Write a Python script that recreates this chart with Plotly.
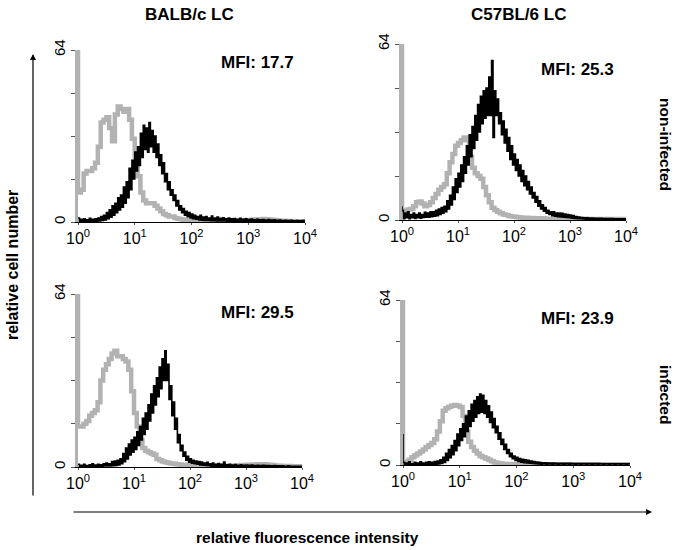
import plotly.graph_objects as go

# ---------------- data ----------------
COL_TITLES = ["BALB/c LC", "C57BL/6 LC"]
ROW_TITLES = ["non-infected", "infected"]
MFI_TEXT = ["MFI: 17.7", "MFI: 25.3", "MFI: 29.5", "MFI: 23.9"]
Y_LABEL = "relative cell number"
X_LABEL = "relative fluorescence intensity"
X_TICKVALS = [1, 10, 100, 1000, 10000]
X_TICKTEXT = ["10<sup>0</sup>", "10<sup>1</sup>", "10<sup>2</sup>", "10<sup>3</sup>", "10<sup>4</sup>"]
Y_TICKVALS = [0, 64]
Y_TICKTEXT = ["0", "64"]
Y_MINOR_TICKS = [16, 32, 48]

# histogram channels: log10 fluorescence positions, 0.05 decade steps
LOG_BINS = [i * 0.05 for i in range(81)]

# counts in first channel (pile-up at the axis)
GRAY_FIRST = [64, 64, 64, 64]
BLACK_FIRST = [1.5, 5, 1, 12]

# isotype control (gray)
TL_GRAY = [11, 12, 18, 19, 19, 20, 22, 28, 37, 38,
           39, 35, 30, 40, 43, 42, 41, 42, 38, 31,
           24, 17, 11, 8, 7, 7, 7, 6, 5, 4,
           3, 2.5, 2, 2, 1.5, 1.2, 1, 0.8, 0.6, 0.6,
           0.5, 0.5, 0.4, 0.5, 0.4, 0.4, 0.5, 0.4, 0.4, 0.5,
           0.4, 0.4, 0.4, 0.5, 0.4, 0.5, 0.5, 0.6, 0.6, 0.7,
           0.7, 0.8, 0.9, 1.0, 1.0, 1.1, 1.0, 0.9, 0.8, 0.7,
           0.6, 0.5, 0.5, 0.4, 0.4, 0.4, 0.3, 0.3, 0.3, 0.3,
           0.3]
TR_GRAY = [3.5, 3.5, 3.8, 4, 5, 6.5, 6.7, 6, 5, 5.5,
           6.5, 8, 9.5, 11, 12, 13, 17, 21, 24, 27,
           28, 29, 30, 29, 23, 19, 17, 16, 15, 12,
           9, 6.5, 4.5, 3.6, 3, 2.5, 2, 1.8, 1.5, 1.3,
           1.2, 1.0, 0.9, 0.8, 0.8, 0.7, 0.7, 0.6, 0.6, 0.6,
           0.6, 0.5, 0.5, 0.5, 0.5, 0.5, 0.5, 0.5, 0.5, 0.5,
           0.5, 0.5, 0.5, 0.5, 0.5, 0.5, 0.4, 0.4, 0.4, 0.4,
           0.4, 0.4, 0.4, 0.4, 0.4, 0.4, 0.4, 0.4, 0.4, 0.4,
           0.4]
BL_GRAY = [15, 15, 16, 17, 19, 20, 21, 24, 32, 36,
           38, 40, 42, 43, 41, 41, 40, 39, 36, 28,
           20, 15, 10, 7, 6, 5.5, 5, 4.5, 3, 2.5,
           2, 1.8, 1.5, 1.3, 1.2, 1.0, 0.9, 0.8, 0.7, 0.6,
           0.5, 0.5, 0.5, 0.5, 0.5, 0.5, 0.5, 0.5, 0.5, 0.5,
           0.5, 0.5, 0.5, 0.5, 0.5, 0.5, 0.6, 0.6, 0.7, 0.7,
           0.8, 0.8, 0.9, 0.9, 1.0, 1.0, 1.0, 0.9, 0.8, 0.7,
           0.6, 0.5, 0.5, 0.4, 0.4, 0.4, 0.3, 0.3, 0.3, 0.3,
           0.3]
BR_GRAY = [1.0, 1.3, 2.0, 3.0, 3.8, 4.5, 5.2, 6, 7, 7.8,
           8.5, 10, 13, 17, 21, 22, 22.6, 23, 23.3, 23,
           22.5, 19, 13, 9, 7, 5.5, 4.5, 3.5, 3, 2.5,
           2, 1.5, 1.0, 0.8, 0.6, 0.5, 0.4, 0.4, 0.4, 0.3,
           0.3, 0.3, 0.3, 0.3, 0.3, 0.3, 0.3, 0.3, 0.3, 0.3,
           0.3, 0.3, 0.3, 0.3, 0.3, 0.3, 0.3, 0.3, 0.3, 0.3,
           0.3, 0.3, 0.3, 0.3, 0.3, 0.3, 0.3, 0.3, 0.3, 0.3,
           0.3, 0.3, 0.3, 0.3, 0.3, 0.3, 0.3, 0.3, 0.3, 0.3,
           0.3]

# specific staining (black): upper and lower envelope of the noisy histogram
TL_HI = [1.5, 1.0, 1.2, 0.8, 1.4, 1.0, 1.2, 1.5, 2.0, 2.5,
         3.5, 4.5, 6, 7, 9, 10, 13, 15, 20, 23,
         26, 28, 33, 36, 35, 37, 34, 32, 29, 25,
         22, 18, 15, 12, 10, 8, 6, 5, 4, 3.5,
         3, 2.5, 2.0, 2.5, 1.8, 2.0, 1.5, 2.2, 1.5, 1.8,
         1.4, 1.6, 1.2, 1.5, 1.2, 1.3, 1.0, 1.4, 1.0, 1.2,
         0.9, 1.1, 0.8, 1.0, 0.8, 0.9, 0.7, 0.9, 0.7, 0.8,
         0.6, 0.7, 0.5, 0.6, 0.5, 0.6, 0.4, 0.5, 0.4, 0.5,
         0.4]
TL_LO = [0.3, 0.2, 0.3, 0.2, 0.3, 0.2, 0.3, 0.4, 0.6, 0.8,
         1.2, 1.8, 2.5, 3.5, 4.5, 5.5, 7, 9, 12, 16,
         19, 21, 24, 27, 26, 28, 26, 24, 21, 18,
         15, 12, 10, 8, 6, 4.5, 3.5, 2.5, 2, 1.5,
         1.2, 1.0, 0.8, 0.7, 0.6, 0.6, 0.5, 0.5, 0.4, 0.4,
         0.4, 0.4, 0.3, 0.3, 0.3, 0.2, 0.3, 0.2, 0.3, 0.2,
         0.3, 0.2, 0.3, 0.2, 0.3, 0.2, 0.3, 0.2, 0.3, 0.2,
         0.3, 0.2, 0.3, 0.2, 0.3, 0.2, 0.3, 0.2, 0.3, 0.2,
         0.2]
TR_HI = [3.5, 2.5, 3, 2, 2.5, 2, 2.5, 2, 2.8, 2.5,
         3, 3, 3.5, 4, 4.5, 5, 7, 9, 12, 15,
         17, 20, 23, 27, 31, 34, 38, 42, 45, 47,
         48, 52, 58, 47, 44, 39, 36, 33, 30, 27,
         24, 22, 20, 18, 16, 14, 12, 10, 8.5, 7,
         5.5, 4.5, 3.5, 3, 3, 2.5, 2.5, 2.4, 2.2, 2,
         1.8, 1.6, 1.3, 1.1, 0.9, 0.8, 0.8, 0.7, 0.7, 0.6,
         0.6, 0.6, 0.5, 0.5, 0.5, 0.5, 0.4, 0.4, 0.4, 0.4,
         0.4]
TR_LO = [0.5, 0.8, 0.5, 0.8, 0.6, 0.8, 0.7, 0.9, 1.0, 1.0,
         1.2, 1.4, 1.6, 2, 2.5, 3, 4, 5.5, 7.5, 10,
         12, 14, 17, 20, 23, 26, 29, 32, 35, 37,
         38, 38, 30, 38, 35, 31, 28, 25, 22, 20,
         18, 16, 14, 12.5, 11, 9.5, 8, 6.5, 5, 4,
         3.2, 2.5, 2, 1.6, 1.4, 1.2, 1.1, 1, 0.9, 0.8,
         0.7, 0.6, 0.5, 0.5, 0.4, 0.3, 0.2, 0.3, 0.2, 0.3,
         0.2, 0.3, 0.2, 0.3, 0.2, 0.3, 0.2, 0.3, 0.2, 0.3,
         0.2]
BL_HI = [1.0, 0.6, 1.0, 0.5, 0.8, 1.2, 0.7, 1.0, 0.8, 1.2,
         1.5, 1.2, 2, 2.2, 2.5, 3, 5, 7, 8.5, 10,
         11, 13, 15, 18, 20, 23, 27, 30, 33, 37,
         40, 43, 38, 30, 24, 18, 12, 8, 5.5, 4,
         3, 2.5, 2.2, 2.0, 1.8, 1.5, 1.7, 1.2, 1.5, 1.0,
         1.3, 1.0, 1.8, 0.8, 1.0, 0.7, 0.9, 0.6, 0.8, 0.6,
         0.7, 0.6, 0.7, 0.5, 0.6, 0.5, 0.6, 0.5, 0.5, 0.4,
         0.5, 0.4, 0.4, 0.4, 0.3, 0.4, 0.3, 0.3, 0.3, 0.3,
         0.3]
BL_LO = [0.2, 0.3, 0.2, 0.3, 0.2, 0.3, 0.2, 0.3, 0.3, 0.4,
         0.4, 0.4, 0.5, 0.6, 0.8, 1.2, 2, 3, 4.5, 5.5,
         6.5, 8, 10, 12, 14, 17, 20, 23, 26, 29,
         32, 32, 25, 19, 14, 9, 6, 4, 2.5, 1.8,
         1.4, 1.2, 1, 0.8, 0.7, 0.6, 0.5, 0.3, 0.2, 0.3,
         0.2, 0.3, 0.2, 0.3, 0.2, 0.3, 0.2, 0.3, 0.2, 0.3,
         0.2, 0.3, 0.2, 0.3, 0.2, 0.3, 0.2, 0.3, 0.2, 0.3,
         0.2, 0.3, 0.2, 0.3, 0.2, 0.3, 0.2, 0.3, 0.2, 0.3,
         0.2]
BR_HI = [1.0, 0.8, 1.2, 0.6, 1.0, 0.8, 1.2, 0.8, 1.0, 1.2,
         1.0, 1.3, 1.5, 2, 3, 4.5, 6, 7.5, 9.5, 12,
         14, 16, 19, 21, 23.5, 25, 26.5, 27.5, 27, 25,
         23, 20.5, 18, 15, 12.5, 10, 8, 6, 4.5, 3.5,
         3, 2.5, 2.2, 2, 1.8, 1.5, 1.3, 1.1, 1.0, 0.9,
         0.9, 0.8, 0.8, 0.8, 0.7, 0.7, 0.7, 0.7, 0.7, 0.7,
         0.6, 0.6, 0.6, 0.6, 0.6, 0.6, 0.6, 0.6, 0.6, 0.6,
         0.5, 0.5, 0.5, 0.5, 0.5, 0.5, 0.5, 0.5, 0.5, 0.5,
         0.5]
BR_LO = [0.2, 0.3, 0.2, 0.3, 0.2, 0.3, 0.2, 0.3, 0.2, 0.3,
         0.3, 0.3, 0.4, 0.6, 1.0, 1.8, 2.8, 4, 5.5, 7.5,
         9.5, 11, 13, 15, 17, 18.5, 20, 20.5, 20, 18.5,
         16.5, 14.5, 12.5, 10, 8, 6, 4.5, 3.2, 2.4, 1.8,
         1.4, 1.1, 0.9, 0.8, 0.7, 0.6, 0.5, 0.4, 0.3, 0.4,
         0.3, 0.4, 0.3, 0.4, 0.3, 0.4, 0.3, 0.4, 0.3, 0.4,
         0.3, 0.4, 0.3, 0.4, 0.3, 0.4, 0.3, 0.4, 0.3, 0.4,
         0.3, 0.4, 0.3, 0.4, 0.3, 0.4, 0.3, 0.4, 0.3, 0.4,
         0.3]

GRAY = [TL_GRAY, TR_GRAY, BL_GRAY, BR_GRAY]
HI = [TL_HI, TR_HI, BL_HI, BR_HI]
LO = [TL_LO, TR_LO, BL_LO, BR_LO]

# ---------------- layout geometry ----------------
W, H = 683, 550
FONT = "Liberation Sans, Arial, sans-serif"
# panel boxes in pixels: (left, right, top, bottom)
BOXES = [(78, 305, 50, 222), (402, 626, 44, 220),
         (78, 302, 294, 467), (403, 630, 300, 465)]

fig = go.Figure()

step = LOG_BINS[1] - LOG_BINS[0]
for k in range(4):
    xa = "x" if k == 0 else f"x{k+1}"
    ya = "y" if k == 0 else f"y{k+1}"
    gx = [10 ** LOG_BINS[0]] + [10 ** p for p in LOG_BINS]
    gy = [GRAY_FIRST[k]] + GRAY[k]
    fig.add_trace(go.Scatter(x=gx, y=gy, mode="lines", line_shape="hv",
                             line=dict(color="#b2b2b2", width=4.5),
                             xaxis=xa, yaxis=ya, showlegend=False, hoverinfo="skip"))
    bx, by = [10 ** LOG_BINS[0]], [BLACK_FIRST[k]]
    for p, hi, lo in zip(LOG_BINS, HI[k], LO[k]):
        bx += [10 ** p, 10 ** (p + step / 2)]
        by += [hi, lo]
    fig.add_trace(go.Scatter(x=bx, y=by, mode="lines", line_shape="hv",
                             line=dict(color="#000000", width=1.6),
                             xaxis=xa, yaxis=ya, showlegend=False, hoverinfo="skip"))

layout = dict(width=W, height=H,
              margin=dict(l=0, r=0, t=0, b=0, pad=0, autoexpand=False),
              paper_bgcolor="white", plot_bgcolor="white",
              font=dict(family=FONT, color="black"))
for k, (l, r, t, b) in enumerate(BOXES):
    xk = "xaxis" if k == 0 else f"xaxis{k+1}"
    yk = "yaxis" if k == 0 else f"yaxis{k+1}"
    xa = "x" if k == 0 else f"x{k+1}"
    ya = "y" if k == 0 else f"y{k+1}"
    layout[xk] = dict(domain=[l / W, r / W], anchor=ya, type="log", range=[0, 4],
                      tickvals=X_TICKVALS, ticktext=X_TICKTEXT,
                      showline=True, linecolor="black", linewidth=1,
                      ticks="outside", ticklen=2, tickcolor="#555",
                      showgrid=False, zeroline=False, automargin=False,
                      tickfont=dict(size=16, family=FONT, color="black"))
    layout[yk] = dict(domain=[1 - b / H, 1 - t / H], anchor=xa, range=[0, 64],
                      tickvals=Y_TICKVALS, ticktext=Y_TICKTEXT, tickangle=-90,
                      showline=True, linecolor="#b2b2b2", linewidth=3,
                      ticks="outside", ticklen=4, tickcolor="#555",
                      minor=dict(tickvals=Y_MINOR_TICKS, ticks="outside", ticklen=4,
                                 tickcolor="#555", showgrid=False),
                      showgrid=False, zeroline=False, automargin=False,
                      tickfont=dict(size=15, family=FONT, color="black"))
fig.update_layout(**layout)


def label(txt, px, py, size, angle=0):
    return dict(text=f"<b>{txt}</b>", x=px / W, y=1 - py / H, xref="paper", yref="paper",
                xanchor="center", yanchor="middle", showarrow=False, textangle=angle,
                font=dict(size=size, family=FONT, color="black"))


ann = []
MFI_POS = [(257, 62), (577, 70), (257, 312), (577, 318)]
for txt, (px, py) in zip(MFI_TEXT, MFI_POS):
    ann.append(label(txt, px, py, 17))
for txt, px in zip(COL_TITLES, [189, 518]):
    ann.append(label(txt, px, 15, 17))
for txt, py in zip(ROW_TITLES, [144, 394]):
    ann.append(label(txt, 666, py, 15.5, 90))
ann.append(label(Y_LABEL, 12, 265, 16, -90))
ann.append(label(X_LABEL, 307, 537, 15.5))
# axis arrows (head position in paper coords, tail offset in pixels)
ann.append(dict(text="", x=33 / W, y=1 - 54 / H, xref="paper", yref="paper",
                ax=0, ay=443, showarrow=True, arrowhead=2, arrowsize=1,
                arrowwidth=1.2, arrowcolor="black"))
ann.append(dict(text="", x=652 / W, y=1 - 512 / H, xref="paper", yref="paper",
                ax=-580, ay=0, showarrow=True, arrowhead=2, arrowsize=1,
                arrowwidth=1.2, arrowcolor="black"))
fig.update_layout(annotations=ann)

fig.write_html("out.html", config={"displayModeBar": False},
               post_script="document.body.style.margin='0';document.body.style.padding='0';")
